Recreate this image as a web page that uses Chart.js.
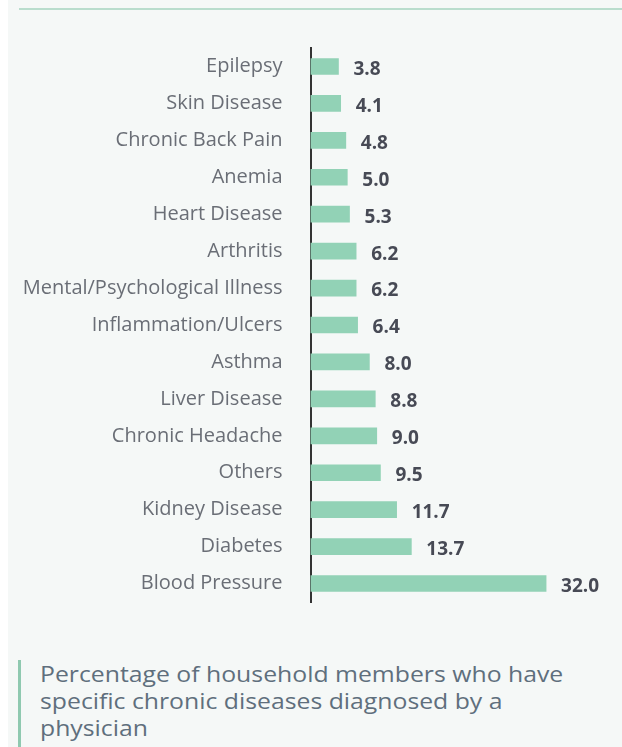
<!DOCTYPE html>
<html>
<head>
<meta charset="utf-8">
<script src="https://cdn.jsdelivr.net/npm/chart.js@4"></script>
<style>
  html, body { margin: 0; padding: 0; background: #fff; }
  #panel { position: absolute; left: 8px; top: 0; width: 614px; height: 747px; background: #f5f8f7; }
  #topline { position: absolute; left: 19px; top: 8px; width: 603px; height: 2px; background: #b9ddcd; }
  #wrap { position: absolute; left: 0; top: 0; width: 622px; height: 634px; }
  #bar { position: absolute; left: 18px; top: 660px; width: 3px; height: 87px; background: #8fc9b0; }
  #caption { position: absolute; left: 40px; top: 661px; width: 470px; transform: scaleX(1.18); transform-origin: left top;
    font-family: "Open Sans", sans-serif; font-size: 21px; line-height: 27px; color: #5f6f7d; }
</style>
</head>
<body>
<div id="panel"></div>
<div id="topline"></div>
<div id="wrap"><canvas id="myDiseases" width="622" height="634"></canvas></div>
<div id="bar"></div>
<div id="caption">Percentage of household members who have specific chronic diseases diagnosed by a physician</div>
<script>
const diseases = ['Epilepsy', 'Skin Disease', 'Chronic Back Pain', 'Anemia', 'Heart Disease', 'Arthritis',
  'Mental/Psychological Illness', 'Inflammation/Ulcers', 'Asthma', 'Liver Disease', 'Chronic Headache',
  'Others', 'Kidney Disease', 'Diabetes', 'Blood Pressure'];
const percentages = [3.8, 4.1, 4.8, 5.0, 5.3, 6.2, 6.2, 6.4, 8.0, 8.8, 9.0, 9.5, 11.7, 13.7, 32.0];

document.addEventListener('DOMContentLoaded', () => {
  var ctx = document.getElementById('myDiseases');

  // value labels after each bar
  const valueLabels = {
    id: 'valueLabels',
    afterDatasetsDraw(chart) {
      const c = chart.ctx;
      const meta = chart.getDatasetMeta(0);
      c.save();
      c.font = 'bold 19px "Open Sans", sans-serif';
      c.fillStyle = '#474a55';
      c.textBaseline = 'middle';
      meta.data.forEach((bar, i) => {
        c.fillText(percentages[i].toFixed(1), bar.x + 15, bar.y + 3);
      });
      c.restore();
    }
  };

  new Chart(ctx, {
    type: 'bar',
    data: {
      labels: diseases,
      datasets: [{
        data: percentages,
        backgroundColor: '#92d2b6',
        barThickness: 16,
      }],
    },
    options: {
      indexAxis: 'y',
      responsive: false,
      maintainAspectRatio: false,
      animation: false,
      layout: { padding: { top: 48, bottom: 19, left: 16, right: 17 } },
      plugins: { legend: { display: false }, tooltip: { enabled: false } },
      scales: {
        x: {
          min: 0, max: 40,
          display: false,
        },
        y: {
          grid: { display: false },
          border: { display: true, color: '#333', width: 2 },
          ticks: {
            color: '#6a6e76',
            font: { family: '"Open Sans", sans-serif', size: 20 },
            padding: 20,
          },
        },
      },
    },
    plugins: [valueLabels],
  });
});
</script>
</body>
</html>
